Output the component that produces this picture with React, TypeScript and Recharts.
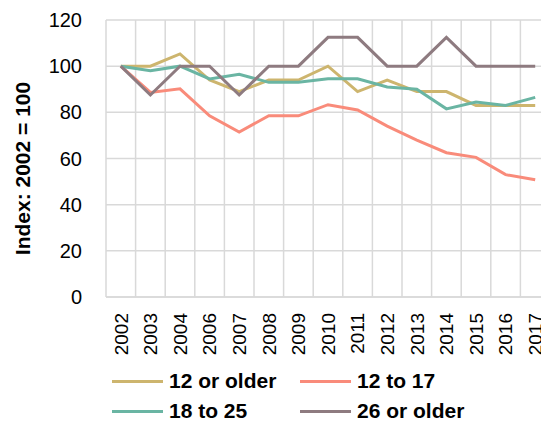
import React from "react";
import { LineChart, Line, XAxis, YAxis, CartesianGrid, Legend } from "recharts";

const years = ["2002", "2003", "2004", "2006", "2007", "2008", "2009", "2010", "2011", "2012", "2013", "2014", "2015", "2016", "2017"];
const age12OrOlder = [100, 100, 105.3, 94, 89, 94, 94, 100, 89, 94, 89, 89, 83, 83, 83];
const age12To17 = [100, 88.6, 90.2, 78.5, 71.5, 78.5, 78.5, 83.3, 81, 74, 68, 62.5, 60.5, 53, 50.8];
const age18To25 = [100, 98, 100, 94.5, 96.5, 93, 93, 94.5, 94.5, 91, 90, 81.5, 84.5, 83, 86.5];
const age26OrOlder = [100, 87.5, 100, 100, 87.5, 100, 100, 112.5, 112.5, 100, 100, 112.5, 100, 100, 100];
const yTicks = [0, 20, 40, 60, 80, 100, 120];

const seriesDefs = [
  { key: "a", name: "12 or older", color: "#CDB56E" },
  { key: "b", name: "12 to 17", color: "#F98B7A" },
  { key: "c", name: "18 to 25", color: "#6AB5A3" },
  { key: "d", name: "26 or older", color: "#8E7B80" },
];

const data = years.map((y, i) => ({
  year: y,
  a: age12OrOlder[i],
  b: age12To17[i],
  c: age18To25[i],
  d: age26OrOlder[i],
}));

const FONT = "'Liberation Sans', Arial, sans-serif";
const CHART_W = 550;
const Y_W = 106;
const HALF_BAND = (CHART_W - Y_W) / years.length / 2;

const XTick = (props: any) => {
  const { x, y, payload } = props;
  return (
    <g transform={`translate(${x},${y})`}>
      <text
        transform="rotate(-90)"
        x={-8}
        y={0}
        dy="0.36em"
        textAnchor="end"
        fontSize={19}
        fontFamily={FONT}
        fill="#000"
      >
        {payload.value}
      </text>
    </g>
  );
};

const LegendContent = () => {
  const pos = [
    { left: 112, top: 10 },
    { left: 300, top: 10 },
    { left: 112, top: 40 },
    { left: 300, top: 40 },
  ];
  return (
    <div style={{ position: "relative", width: 541, height: 64 }}>
      {seriesDefs.map((s, i) => (
        <div
          key={s.key}
          style={{
            position: "absolute",
            left: pos[i].left,
            top: pos[i].top,
            height: 28,
            display: "flex",
            alignItems: "center",
            whiteSpace: "nowrap",
          }}
        >
          <div style={{ width: 51, height: 3, background: s.color, marginRight: 6 }} />
          <span style={{ fontFamily: FONT, fontWeight: "bold", fontSize: 21, color: "#000" }}>{s.name}</span>
        </div>
      ))}
    </div>
  );
};

export default function App() {
  const n = years.length;
  return (
    <div style={{ position: "absolute", left: 0, top: 0, width: 541, height: 421, overflow: "hidden", background: "#fff" }}>
      <LineChart width={CHART_W} height={421} data={data} margin={{ top: 20, right: 0, bottom: 0, left: 0 }}>
        <CartesianGrid
          stroke="#D9D9D9"
          strokeWidth={1.5}
          verticalCoordinatesGenerator={({ offset }: any) =>
            Array.from({ length: n + 1 }, (_, i) => offset.left + (i * offset.width) / n)
          }
        />
        <XAxis
          dataKey="year"
          interval={0}
          padding={{ left: HALF_BAND, right: HALF_BAND }}
          axisLine={{ stroke: "#D9D9D9", strokeWidth: 1.5 }}
          tickLine={false}
          height={60}
          tick={<XTick />}
        />
        <YAxis
          domain={[0, 120]}
          ticks={yTicks}
          width={Y_W}
          axisLine={false}
          tickLine={false}
          tickSize={0}
          tickMargin={24}
          tick={{ fontSize: 20, fontFamily: FONT, fill: "#000" }}
          label={{
            content: ({ viewBox }: any) => {
              const cx = viewBox.x + 30;
              const cy = viewBox.y + viewBox.height / 2 + 10;
              return (
                <text
                  x={cx}
                  y={cy}
                  transform={`rotate(-90, ${cx}, ${cy})`}
                  textAnchor="middle"
                  fontSize={21}
                  fontWeight="bold"
                  fontFamily={FONT}
                  fill="#000"
                >
                  Index: 2002 = 100
                </text>
              );
            },
          }}
        />
        {seriesDefs.map((s) => (
          <Line
            key={s.key}
            type="linear"
            dataKey={s.key}
            name={s.name}
            stroke={s.color}
            strokeWidth={3}
            dot={false}
            activeDot={false}
            isAnimationActive={false}
          />
        ))}
        <Legend verticalAlign="bottom" content={<LegendContent />} wrapperStyle={{ left: 0, width: 541 }} />
      </LineChart>
    </div>
  );
}
